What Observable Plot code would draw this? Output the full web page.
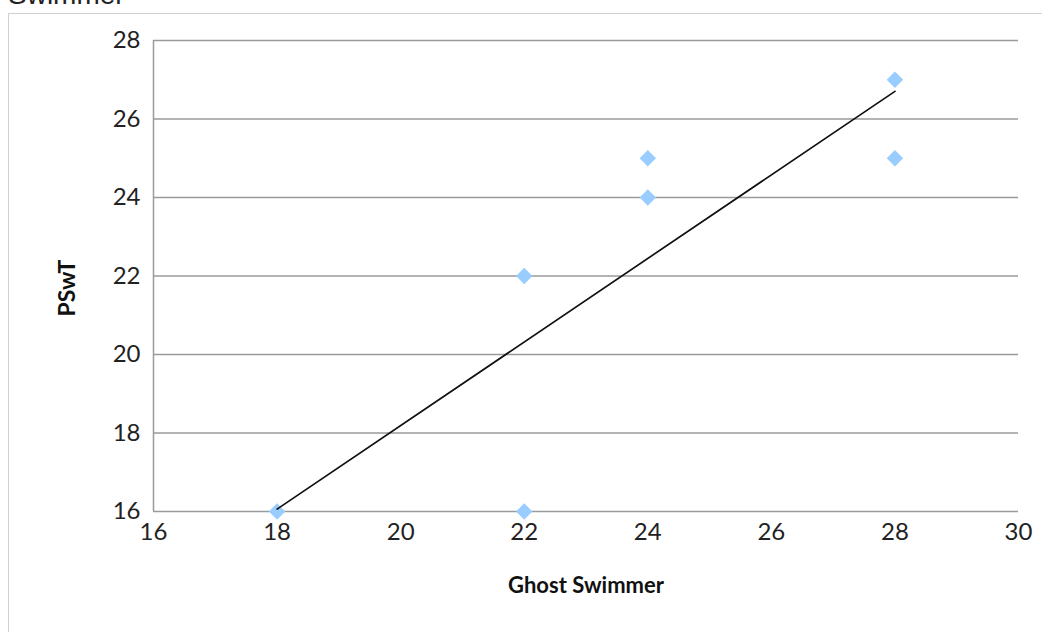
<!DOCTYPE html>
<html>
<head>
<meta charset="utf-8">
<script src="https://cdn.jsdelivr.net/npm/d3@7"></script>
<script src="https://cdn.jsdelivr.net/npm/@observablehq/plot@0.6"></script>
<style>
  html, body { margin: 0; padding: 0; background: #fff; overflow: hidden; }
  #wrap { position: relative; width: 1042px; height: 632px; }
  #frame { position: absolute; left: 8px; top: 13px; right: -4px; bottom: -4px; border: 1px solid #d0d0d0; }
  #title { position: absolute; left: 8px; top: -21px; font: 28px "Liberation Sans", Arial, sans-serif; color: #222; white-space: nowrap; }
  #chart { position: absolute; left: 0; top: 0; }
</style>
</head>
<body>
<div id="wrap">
  <div id="frame"></div>
  <div id="title">Swimmer</div>
  <div id="chart"></div>
</div>
<script>
const ghostSwimmer = [18, 22, 22, 24, 24, 28, 28];
const pswt = [16, 22, 16, 25, 24, 27, 25];
const xTicks = [16, 18, 20, 22, 24, 26, 28, 30];
const yTicks = [16, 18, 20, 22, 24, 26, 28];

const points = ghostSwimmer.map((x, i) => ({x, y: pswt[i]}));

const chart = Plot.plot({
  width: 1042,
  height: 632,
  marginLeft: 153,
  marginRight: 24,
  marginTop: 40,
  marginBottom: 121,
  style: {fontFamily: "Lato, sans-serif", background: "transparent", color: "#222"},
  x: {domain: [16, 30], ticks: xTicks, label: null},
  y: {domain: [16, 28], ticks: yTicks, label: null},
  marks: [
    Plot.gridY(yTicks, {stroke: "#9a9a9a", strokeOpacity: 1, strokeWidth: 1.5}),
    Plot.ruleX([16], {stroke: "#9a9a9a", strokeWidth: 1.5}),
    Plot.axisX(xTicks, {tickSize: 0, tickPadding: 11, fontSize: 24, fill: "#222", label: null}),
    Plot.axisY(yTicks, {tickSize: 0, tickPadding: 13, fontSize: 24, fill: "#222", label: null}),
    Plot.dot(points, {x: "x", y: "y", symbol: "diamond2", r: 7.4, fill: "#99ccff", stroke: "none"}),
    Plot.linearRegressionY(points, {x: "x", y: "y", stroke: "#111", strokeWidth: 1.7, ci: 0}),
    Plot.text(["Ghost Swimmer"], {frameAnchor: "bottom", dy: 81, fontSize: 22, fontWeight: "bold", fill: "#111"}),
    Plot.text(["PSwT"], {frameAnchor: "left", dx: -86, dy: 12, rotate: -90, textAnchor: "middle", fontSize: 23, fontWeight: "bold", fill: "#111", style: "letter-spacing: 2px"})
  ]
});
document.getElementById("chart").appendChild(chart);
</script>
</body>
</html>
